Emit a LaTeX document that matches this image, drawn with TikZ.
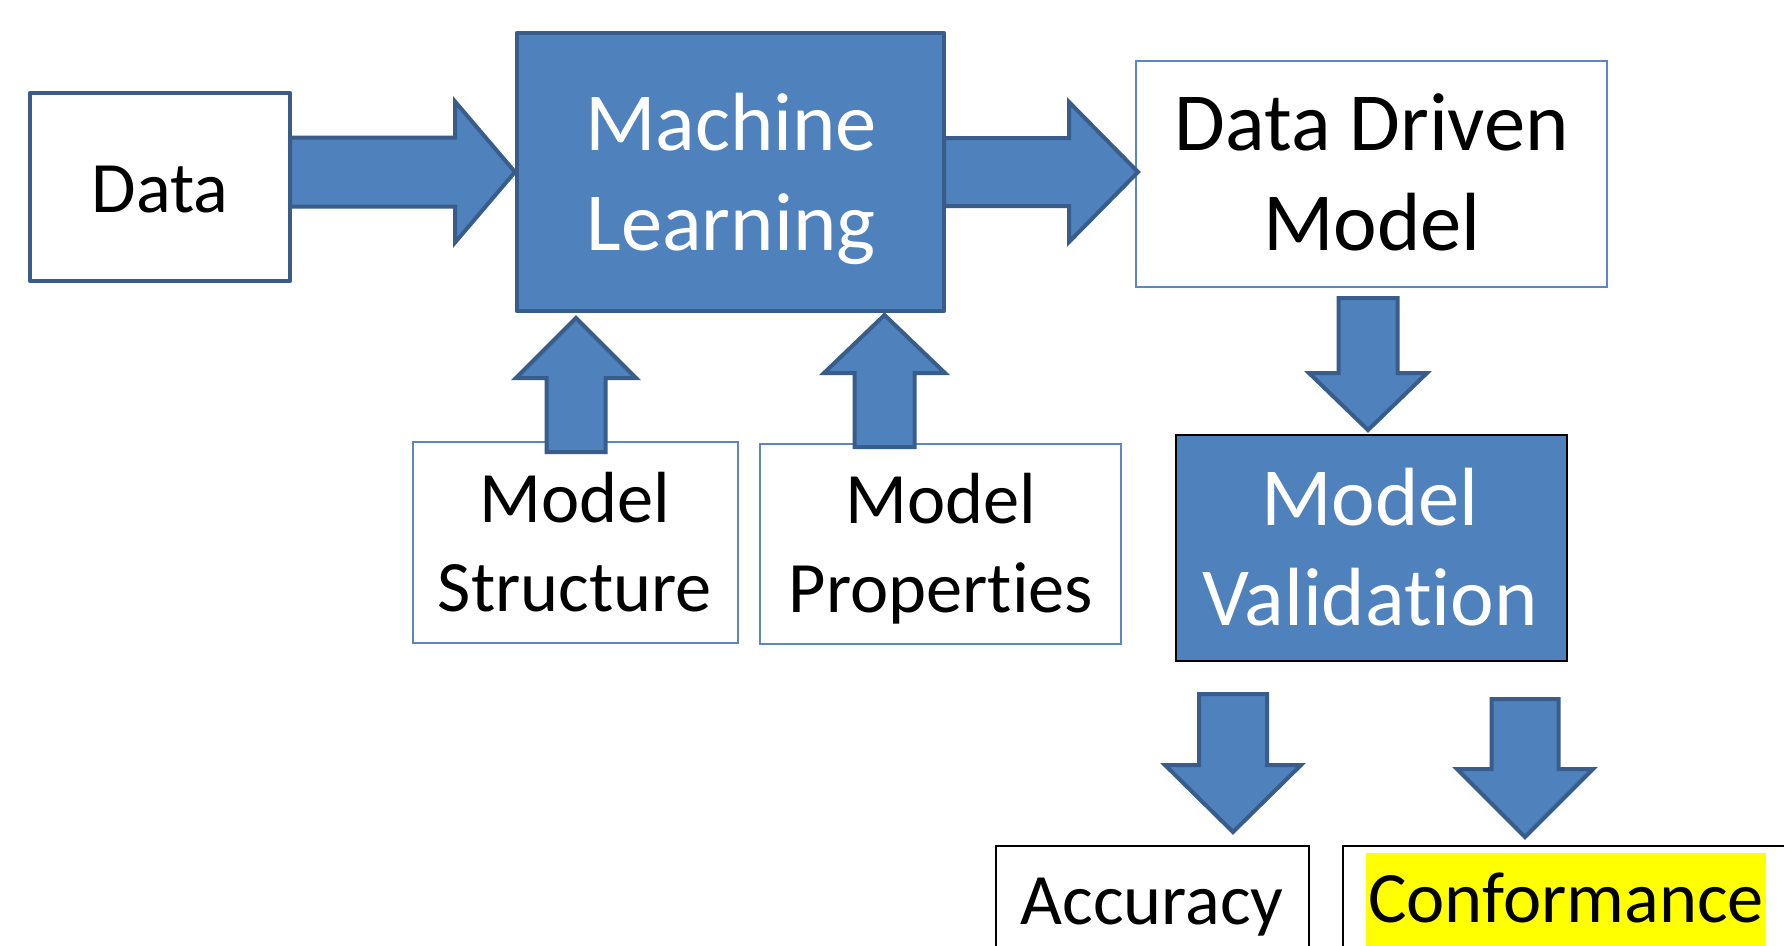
\documentclass[tikz,border=0pt]{standalone}
\usepackage{fontspec}
\setmainfont{Carlito}[Ligatures=NoCommon]
\usetikzlibrary{calc}

\definecolor{accent}{HTML}{4F81BD}
\definecolor{accentdark}{HTML}{385D8A}
\definecolor{thinline}{HTML}{5B88C4}
\definecolor{marker}{HTML}{FFFF00}

% two centred lines whose reference point is the first baseline
\newcommand\twolines[2]{\begin{tabular}[t]{@{}c@{}}#1\\#2\end{tabular}}

% block arrow: tail, tip, shaft half width, head half width, head length
\newcommand\blockarrow[5]{%
  \draw[blockarrow] let \p1=(#1), \p2=(#2), \n1={atan2(\y2-\y1,\x2-\x1)} in
    ($(\p1)+(\n1+90:#3)$)
    -- ($(\p2)+(\n1+180:#5)+(\n1+90:#3)$)
    -- ($(\p2)+(\n1+180:#5)+(\n1+90:#4)$)
    -- (\p2)
    -- ($(\p2)+(\n1+180:#5)+(\n1-90:#4)$)
    -- ($(\p2)+(\n1+180:#5)+(\n1-90:#3)$)
    -- ($(\p1)+(\n1-90:#3)$) -- cycle;}

\tikzset{
  anybox/.style={rectangle, inner sep=0pt, outer sep=0pt},
  heavybox/.style={anybox, draw=accentdark, line width=0.45mm, line join=round},
  bluebox/.style={heavybox, fill=accent},
  plainbox/.style={heavybox, fill=white},
  lightbox/.style={anybox, draw=thinline, line width=0.16mm, fill=white},
  blackbox/.style={anybox, draw=black, line width=0.16mm},
  blockarrow/.style={fill=accent, draw=accentdark, line width=0.4mm, line join=miter},
  bigtext/.style={inner sep=0pt, anchor=base, font={\fontsize{23.5}{28.7}\selectfont}},
  smalltext/.style={inner sep=0pt, anchor=base, font={\fontsize{20.6}{25.6}\selectfont}},
}

\begin{document}
\begin{tikzpicture}[x=0.1mm, y=0.1mm]
  \clip (0,0) rectangle (1784,-945);
  \fill[white] (0,0) rectangle (1784,-945);

  % boxes
  \node[plainbox, minimum width=26mm, minimum height=18.8mm] (data) at (160,-187) {};
  \node[bluebox, minimum width=42.7mm, minimum height=27.8mm] (ml) at (730.5,-172) {};
  \node[lightbox, minimum width=47.1mm, minimum height=22.6mm] (ddm) at (1371.5,-174) {};
  \node[lightbox, minimum width=32.5mm, minimum height=20.1mm] (ms) at (575.5,-542.5) {};
  \node[lightbox, minimum width=36.1mm, minimum height=20mm] (mp) at (940.5,-544) {};
  \node[blackbox, fill=accent, minimum width=39.1mm, minimum height=22.6mm] (mv) at (1371.5,-548) {};
  \node[blackbox, fill=white, minimum width=31.3mm, minimum height=14.4mm] (acc) at (1152.5,-918) {};
  \node[blackbox, fill=white, minimum width=46.7mm, minimum height=14.4mm] (conf) at (1576.5,-918) {};

  % labels
  \node[smalltext] (datatext) at (160,-212) {Data};
  \node[bigtext, text=white] (mltext) at (731,-150) {\twolines{Machine}{Learning}};
  \node[bigtext] (ddmtext) at (1372,-150) {\twolines{Data Driven}{Model}};
  \node[smalltext] (mstext) at (575,-522) {\twolines{Model}{Structure}};
  \node[smalltext] (mptext) at (941,-523) {\twolines{Model}{Properties}};
  \node[bigtext, text=white] (mvtext) at (1370,-525) {\twolines{Model}{Validation}};
  \node[smalltext] (acctext) at (1152,-924) {Accuracy};
  \node[smalltext, fill=marker, text height=6.9mm, text depth=3mm, inner xsep=0.2mm]
    (conftext) at (1566,-922) {Conformance};

  % block arrows
  \blockarrow{data.east |- ml.west}{$(ml.west)+(-2,0)$}{34.5}{70.5}{60}
  \blockarrow{ml.east}{$(ml.east -| ddm.west)+(2,0)$}{34}{70}{69}
  \blockarrow{$(ddm.south)+(-3.5,-11)$}{$(mv.north)+(-3.5,5)$}{29.5}{59}{57}
  \blockarrow{$(ms.north)+(0.5,-10)$}{$(ms.north |- ml.south)+(0.5,-7)$}{29.5}{60}{60}
  \blockarrow{$(mp.north)+(-56,-3)$}{$(mp.north |- ml.south)+(-56,-4)$}{30}{60.5}{58}
  \blockarrow{$(mv.south)+(-138.5,-33)$}{$(acc.north -| mv.south)+(-138.5,14)$}{34}{68}{67}
  \blockarrow{$(mv.south)+(153.5,-38)$}{$(conf.north -| mv.south)+(153.5,9)$}{33.5}{68}{68}
\end{tikzpicture}
\end{document}
